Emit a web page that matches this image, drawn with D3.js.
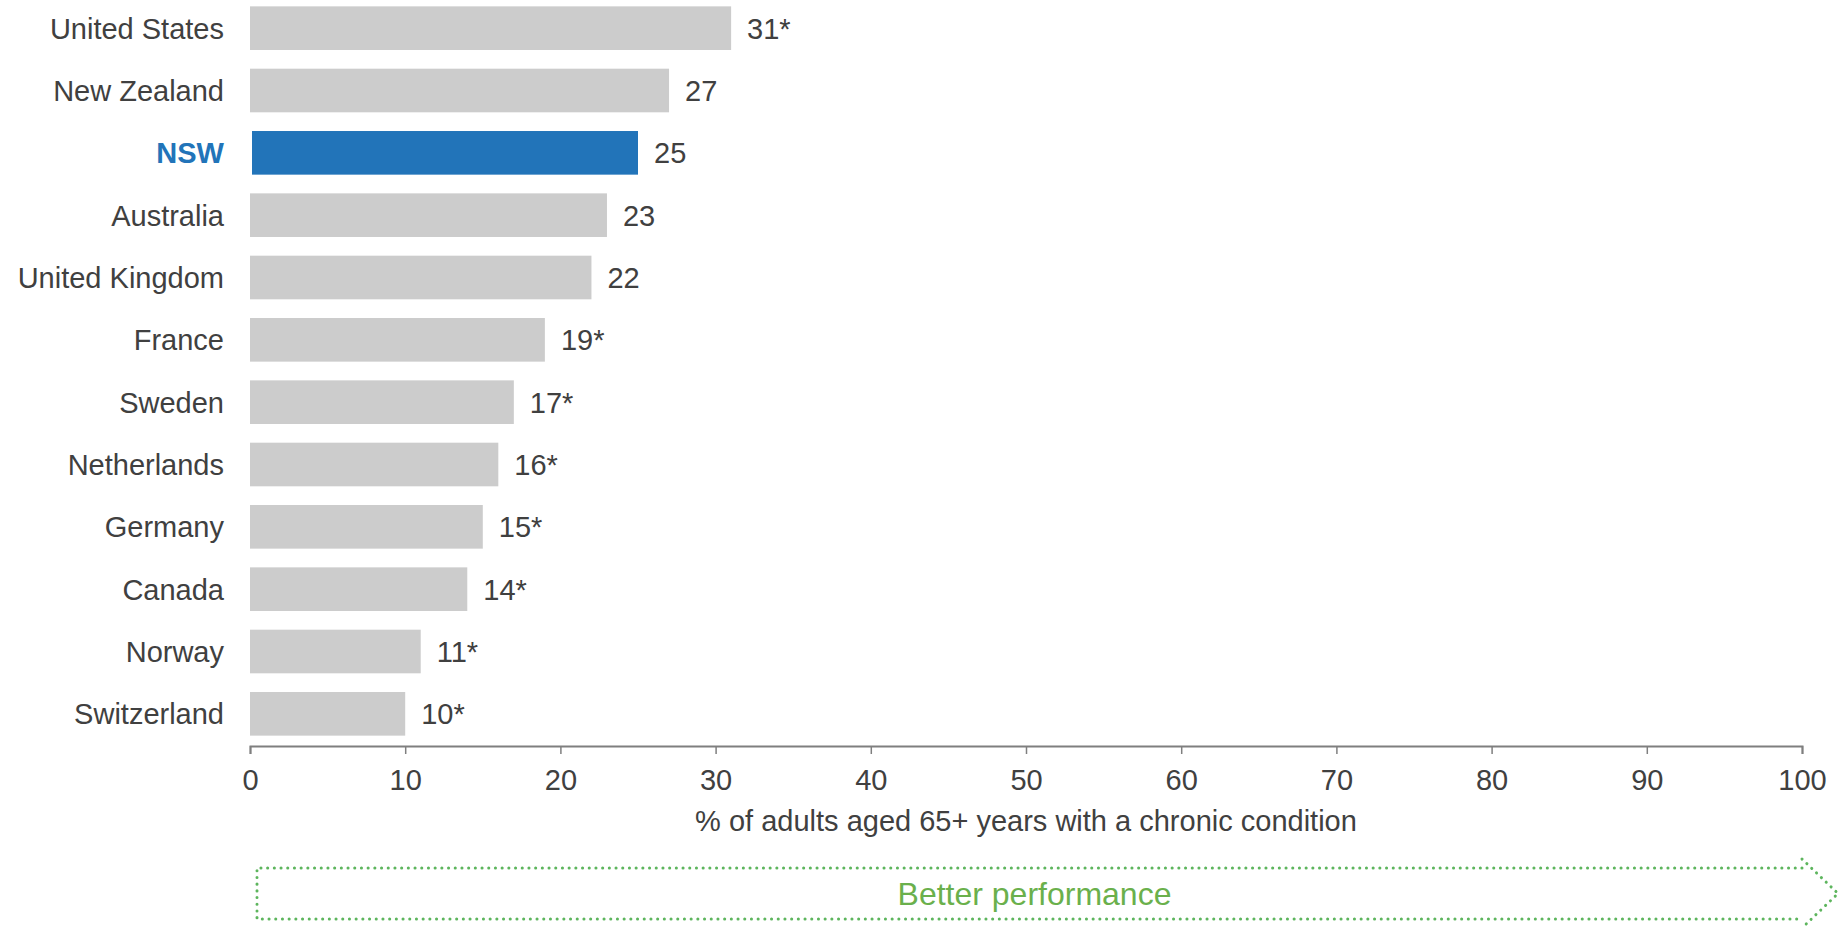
<!DOCTYPE html>
<html>
<head>
<meta charset="utf-8">
<script src="https://cdn.jsdelivr.net/npm/d3@7"></script>
<style>
    body { margin: 0; background: #fff; }
    svg { display: block; font-family: "Liberation Sans", Arial, sans-serif; }
</style>
</head>
<body>
<svg id="chart" width="1845" height="927"></svg>
<script>
var countries = ["United States", "New Zealand", "NSW", "Australia", "United Kingdom", "France",
    "Sweden", "Netherlands", "Germany", "Canada", "Norway", "Switzerland"];
var values = [31, 27, 25, 23, 22, 19, 17, 16, 15, 14, 11, 10];
var value_labels = ["31*", "27", "25", "23", "22", "19*", "17*", "16*", "15*", "14*", "11*", "10*"];
var highlight = "NSW";
var x_ticks = [0, 10, 20, 30, 40, 50, 60, 70, 80, 90, 100];
var x_title = "% of adults aged 65+ years with a chronic condition";
var arrow_text = "Better performance";

var svg = d3.select("#chart");

var text_col = "#404040",
    grey_bar = "#cccccc",
    blue = "#2274b9",
    green = "#5db55d";

var x = d3.scaleLinear()
    .domain([0, 100])
    .range([250, 1802]);

var y = d3.scaleBand()
    .domain(countries)
    .range([-3, 745])
    .paddingInner(0.3)
    .paddingOuter(0.15);

var rows = countries.map(function(c, i) {
    return {name: c, value: values[i], label: value_labels[i]};
});

// bars
svg.append("g")
    .selectAll("rect")
    .data(rows)
    .enter()
    .append("rect")
    .attr("x", function(d) { return x(0) + (d.name == highlight ? 2 : 0); })
    .attr("y", function(d) { return y(d.name); })
    .attr("width", function(d) { return x(d.value) - x(0) - (d.name == highlight ? 2 : 0); })
    .attr("height", y.bandwidth())
    .attr("fill", function(d) { return d.name == highlight ? blue : grey_bar; });

// value labels
svg.append("g")
    .selectAll("text")
    .data(rows)
    .enter()
    .append("text")
    .attr("x", function(d) { return x(d.value) + 16; })
    .attr("y", function(d) { return y(d.name) + y.bandwidth() / 2; })
    .attr("dy", "0.36em")
    .attr("font-size", 29)
    .attr("fill", text_col)
    .text(function(d) { return d.label; });

// category labels
svg.append("g")
    .selectAll("text")
    .data(rows)
    .enter()
    .append("text")
    .attr("x", 224)
    .attr("y", function(d) { return y(d.name) + y.bandwidth() / 2; })
    .attr("dy", "0.36em")
    .attr("text-anchor", "end")
    .attr("font-size", 29)
    .attr("font-weight", function(d) { return d.name == highlight ? "bold" : "normal"; })
    .attr("fill", function(d) { return d.name == highlight ? blue : text_col; })
    .text(function(d) { return d.name; });

// x axis
var axis = svg.append("g")
    .attr("transform", "translate(0,746)")
    .call(d3.axisBottom(x).tickValues(x_ticks).tickSize(8).tickPadding(15).tickSizeOuter(8));

axis.select(".domain").attr("stroke", "#7f7f7f").attr("stroke-width", 2);
axis.selectAll(".tick line").attr("stroke", "#7f7f7f").attr("stroke-width", 1.5);
axis.selectAll(".tick text")
    .attr("font-size", 29)
    .attr("font-family", "Liberation Sans, Arial, sans-serif")
    .attr("fill", text_col);

svg.append("text")
    .attr("x", (x(0) + x(100)) / 2)
    .attr("y", 831)
    .attr("text-anchor", "middle")
    .attr("font-size", 29)
    .attr("fill", text_col)
    .text(x_title);

// better performance arrow
var bx0 = 257, bx1 = 1802, by0 = 868, by1 = 919, tip = 1838;
var my = (by0 + by1) / 2;

svg.append("path")
    .attr("d", "M" + bx1 + "," + by0 + " L" + bx0 + "," + by0 + " L" + bx0 + "," + by1 + " L" + bx1 + "," + by1)
    .attr("fill", "none")
    .attr("stroke", green)
    .attr("stroke-width", 3)
    .attr("stroke-linecap", "round")
    .attr("stroke-dasharray", "0.1,6.6");

svg.append("path")
    .attr("d", "M" + bx1 + "," + (by0 - 9) + " L" + tip + "," + my + " L" + bx1 + "," + (by1 + 9))
    .attr("fill", "none")
    .attr("stroke", green)
    .attr("stroke-width", 3)
    .attr("stroke-linecap", "round")
    .attr("stroke-dasharray", "0.1,6.6");

svg.append("text")
    .attr("x", (bx0 + bx1) / 2 + 5)
    .attr("y", my)
    .attr("dy", "0.36em")
    .attr("text-anchor", "middle")
    .attr("font-size", 32)
    .attr("fill", "#6ab04c")
    .text(arrow_text);
</script>
</body>
</html>
